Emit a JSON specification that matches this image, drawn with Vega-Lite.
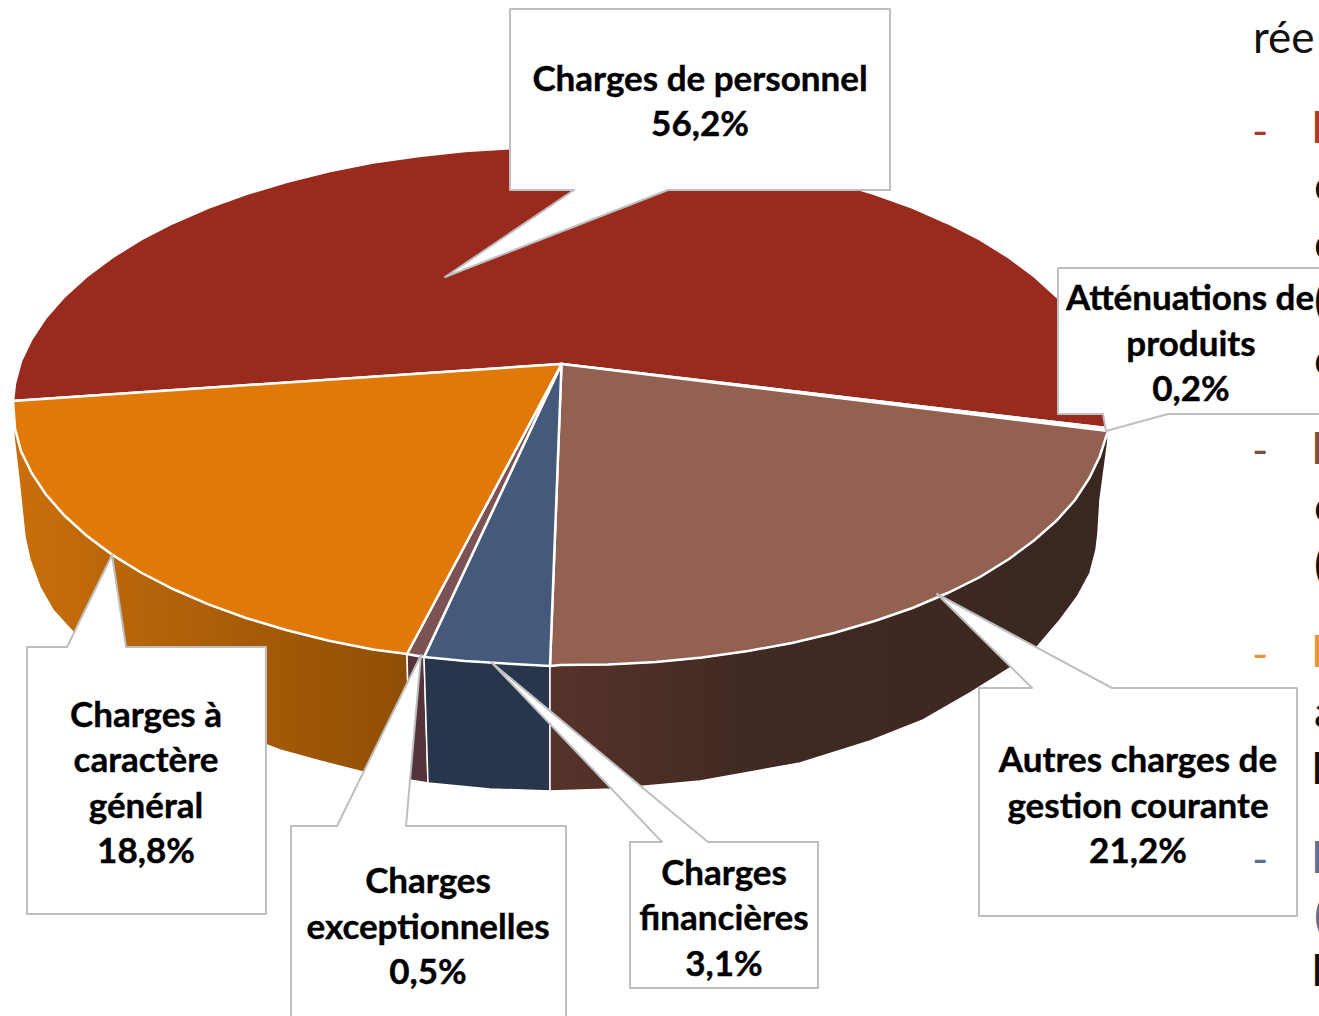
{
"$schema":"https://vega.github.io/schema/vega-lite/v6.json",
"width":1319,"height":1016,"padding":0,"autosize":{"type":"none"},"background":"white",
"view":{"stroke":null},
"projection":{"type":"identity","scale":1,"translate":[0,0]},
"datasets":{
"walls":[
{"type":"Feature","properties":{"name":"Charges à caractère général"},"geometry":{"type":"Polygon","coordinates":[[[13,410],[15,428],[21,451],[31.6,473],[46,494.6],[64.4,515.5],[86.4,535.5],[112,554.6],[141,572.5],[173,589],[208.5,604.4],[246,618],[287,630.3],[329,640.7],[373,649.4],[407,654],[410,780],[363,772],[320,761],[280,750],[220,727],[160,695],[110,665],[73,632],[53,610],[40,587],[30,560],[25,537],[19,480],[14,437],[13,410]]]}},
{"type":"Feature","properties":{"name":"Charges exceptionnelles"},"geometry":{"type":"Polygon","coordinates":[[[407,654],[424,657],[428,783],[410,780],[407,654]]]}},
{"type":"Feature","properties":{"name":"Charges financières"},"geometry":{"type":"Polygon","coordinates":[[[424,657],[465,661],[513,664],[550,666],[550,791],[490,789],[428,783],[424,657]]]}},
{"type":"Feature","properties":{"name":"Autres charges de gestion courante"},"geometry":{"type":"Polygon","coordinates":[[[550,666],[560.5,665],[608,664.5],[656,662],[702,657.6],[748,651],[792,643],[834,633],[874.7,621],[912.5,608],[947.6,593],[980,577],[1009,559],[1034.6,540],[1056.6,520.5],[1075,500],[1089.4,478],[1099.7,456.5],[1108,431],[1108,440],[1104,470],[1100,500],[1098,533],[1096,550],[1090,573],[1077,597],[1060,620],[1037,647],[1010,668],[970,693],[923,720],[870,741],[800,763],[700,781],[613,789],[550,791],[550,666]]]}}
],
"tops":[
{"type":"Feature","properties":{"name":"Charges de personnel","share":56.2},"geometry":{"type":"Polygon","coordinates":[[[561.5,364],[1106,428],[1108,406],[1106,383],[1099.7,361],[1089.4,339],[1075,317],[1056.6,296.5],[1034.6,276.5],[1009,257.4],[980,239.5],[947.6,223],[912.5,207.6],[874.7,194],[834,181.7],[792,171.3],[748,162.6],[702,156],[656,151],[608,148],[560.5,147],[513,148],[465,151],[419,156],[373,162.6],[329,171.3],[287,181.7],[246,194],[208.5,207.6],[173,223],[141,239.5],[112,257.4],[86.4,276.5],[64.4,296.5],[46,317.4],[31.6,339],[21,361],[15,383.4],[13,401],[561.5,364]]]}},
{"type":"Feature","properties":{"name":"Atténuations de produits","share":0.2},"geometry":{"type":"Polygon","coordinates":[[[561.5,364],[1106,428],[1108,431],[561.5,364]]]}},
{"type":"Feature","properties":{"name":"Autres charges de gestion courante","share":21.2},"geometry":{"type":"Polygon","coordinates":[[[561.5,364],[1108,431],[1099.7,456.5],[1089.4,478],[1075,500],[1056.6,520.5],[1034.6,540],[1009,559],[980,577],[947.6,593],[912.5,608],[874.7,621],[834,633],[792,643],[748,651],[702,657.6],[656,662],[608,664.5],[560.5,665],[550,666],[561.5,364]]]}},
{"type":"Feature","properties":{"name":"Charges financières","share":3.1},"geometry":{"type":"Polygon","coordinates":[[[561.5,364],[550,666],[513,664],[465,661],[424,657],[561.5,364]]]}},
{"type":"Feature","properties":{"name":"Charges exceptionnelles","share":0.5},"geometry":{"type":"Polygon","coordinates":[[[561.5,364],[424,657],[407,654],[561.5,364]]]}},
{"type":"Feature","properties":{"name":"Charges à caractère général","share":18.8},"geometry":{"type":"Polygon","coordinates":[[[561.5,364],[407,654],[373,649.4],[329,640.7],[287,630.3],[246,618],[208.5,604.4],[173,589],[141,572.5],[112,554.6],[86.4,535.5],[64.4,515.5],[46,494.6],[31.6,473],[21,451],[15,428.5],[13,401],[561.5,364]]]}}
],
"callouts":[
{"type":"Feature","properties":{"name":"Charges de personnel"},"geometry":{"type":"Polygon","coordinates":[[[510,9],[890,9],[890,190],[668,190],[445,277],[574,190],[510,190],[510,9]]]}},
{"type":"Feature","properties":{"name":"Atténuations de produits"},"geometry":{"type":"Polygon","coordinates":[[[1058,268],[1340,268],[1340,414],[1168,414],[1106,431],[1103,414],[1058,414],[1058,268]]]}},
{"type":"Feature","properties":{"name":"Autres charges de gestion courante"},"geometry":{"type":"Polygon","coordinates":[[[979,688],[1032,688],[937,594],[1112,688],[1297,688],[1297,916],[979,916],[979,688]]]}},
{"type":"Feature","properties":{"name":"Charges financières"},"geometry":{"type":"Polygon","coordinates":[[[630,842],[662,842],[491,662],[708,842],[818,842],[818,988],[630,988],[630,842]]]}},
{"type":"Feature","properties":{"name":"Charges exceptionnelles"},"geometry":{"type":"Polygon","coordinates":[[[291,826],[337,826],[421,655],[406,826],[566,826],[566,1040],[291,1040],[291,826]]]}},
{"type":"Feature","properties":{"name":"Charges à caractère général"},"geometry":{"type":"Polygon","coordinates":[[[27,647],[67,647],[112,555],[126,647],[266,647],[266,914],[27,914],[27,647]]]}}
],
"labels":[
{"t":"Charges de personnel","lon":700,"lat":80},{"t":"56,2%","lon":700,"lat":125},
{"t":"Atténuations de","lon":1190,"lat":299},{"t":"produits","lon":1191,"lat":345},{"t":"0,2%","lon":1191,"lat":390},
{"t":"Autres charges de","lon":1138,"lat":761},{"t":"gestion courante","lon":1138,"lat":807},{"t":"21,2%","lon":1138,"lat":852},
{"t":"Charges","lon":724,"lat":874},{"t":"financières","lon":724,"lat":919},{"t":"3,1%","lon":724,"lat":965},
{"t":"Charges","lon":428,"lat":882},{"t":"exceptionnelles","lon":428,"lat":928},{"t":"0,5%","lon":428,"lat":973},
{"t":"Charges à","lon":146,"lat":716},{"t":"caractère","lon":146,"lat":761},{"t":"général","lon":146,"lat":807},{"t":"18,8%","lon":146,"lat":852}
],
"page":[
{"t":"rée","lon":1253,"lat":40,"g":"body"},
{"t":"-","lon":1252,"lat":134,"g":"red"},{"t":"D","lon":1311,"lat":130,"g":"red"},
{"t":"c","lon":1314,"lat":188,"g":"body"},{"t":"c","lon":1314,"lat":246,"g":"body"},{"t":"(","lon":1314,"lat":303,"g":"body"},{"t":"c","lon":1314,"lat":362,"g":"body"},
{"t":"-","lon":1252,"lat":453,"g":"brown"},{"t":"D","lon":1311,"lat":451,"g":"brown"},
{"t":"c","lon":1314,"lat":509,"g":"body"},{"t":"(","lon":1314,"lat":567,"g":"body"},
{"t":"-","lon":1252,"lat":657,"g":"orange"},{"t":"D","lon":1311,"lat":654,"g":"orange"},
{"t":"a","lon":1314,"lat":714,"g":"body"},{"t":"D","lon":1311,"lat":771,"g":"body"},
{"t":"-","lon":1252,"lat":862,"g":"navy"},{"t":"D","lon":1311,"lat":860,"g":"navy"},
{"t":"(","lon":1314,"lat":918,"g":"navy"},{"t":"D","lon":1311,"lat":973,"g":"body"}
]
},
"layer":[
{"data":{"name":"walls"},"transform":[{"filter":{"field":"properties.name","equal":"Charges à caractère général"}}],
 "mark":{"type":"geoshape","fill":{"gradient":"linear","x1":0,"y1":0,"x2":1,"y2":0,"stops":[{"offset":0,"color":"#c96f0b"},{"offset":1,"color":"#8f4e05"}]},"stroke":"white","strokeWidth":1.5},"encoding":{}},
{"data":{"name":"walls"},"transform":[{"filter":{"field":"properties.name","equal":"Charges exceptionnelles"}}],
 "mark":{"type":"geoshape","fill":"#54343a","stroke":"white","strokeWidth":1.5},"encoding":{}},
{"data":{"name":"walls"},"transform":[{"filter":{"field":"properties.name","equal":"Charges financières"}}],
 "mark":{"type":"geoshape","fill":"#27364a","stroke":"white","strokeWidth":1.5},"encoding":{}},
{"data":{"name":"walls"},"transform":[{"filter":{"field":"properties.name","equal":"Autres charges de gestion courante"}}],
 "mark":{"type":"geoshape","fill":{"gradient":"linear","x1":0,"y1":0,"x2":1,"y2":0,"stops":[{"offset":0,"color":"#57332a"},{"offset":0.35,"color":"#402a23"},{"offset":1,"color":"#3a2721"}]},"stroke":"white","strokeWidth":1.5},"encoding":{}},
{"data":{"name":"tops"},
 "mark":{"type":"geoshape","stroke":"white","strokeWidth":2.5},
 "encoding":{"color":{"field":"properties.name","type":"nominal","legend":null,
   "scale":{"domain":["Charges de personnel","Atténuations de produits","Autres charges de gestion courante","Charges financières","Charges exceptionnelles","Charges à caractère général"],
            "range":["#992b1e","#cdbba5","#936151","#455a7b","#7c5254","#e17909"]}}}},
{"data":{"name":"callouts"},
 "mark":{"type":"geoshape","fill":"white","stroke":"#bfbfbf","strokeWidth":2,"strokeJoin":"round"},"encoding":{}},
{"data":{"name":"labels"},
 "mark":{"type":"text","font":"Lato","fontWeight":"bold","fontSize":35,"color":"black","stroke":"black","strokeWidth":0.4,"align":"center","baseline":"middle"},
 "encoding":{"longitude":{"field":"lon","type":"quantitative"},"latitude":{"field":"lat","type":"quantitative"},"text":{"field":"t"}}},
{"data":{"name":"page"},
 "mark":{"type":"text","font":"Lato","fontSize":44,"align":"left","baseline":"middle"},
 "encoding":{"longitude":{"field":"lon","type":"quantitative"},"latitude":{"field":"lat","type":"quantitative"},"text":{"field":"t"},
  "color":{"field":"g","type":"nominal","legend":null,"scale":{"domain":["body","red","brown","orange","navy"],"range":["#111111","#a93a27","#7c5040","#e8943a","#5f6f8f"]}}}}
],
"resolve":{"scale":{"color":"independent"}}
}
